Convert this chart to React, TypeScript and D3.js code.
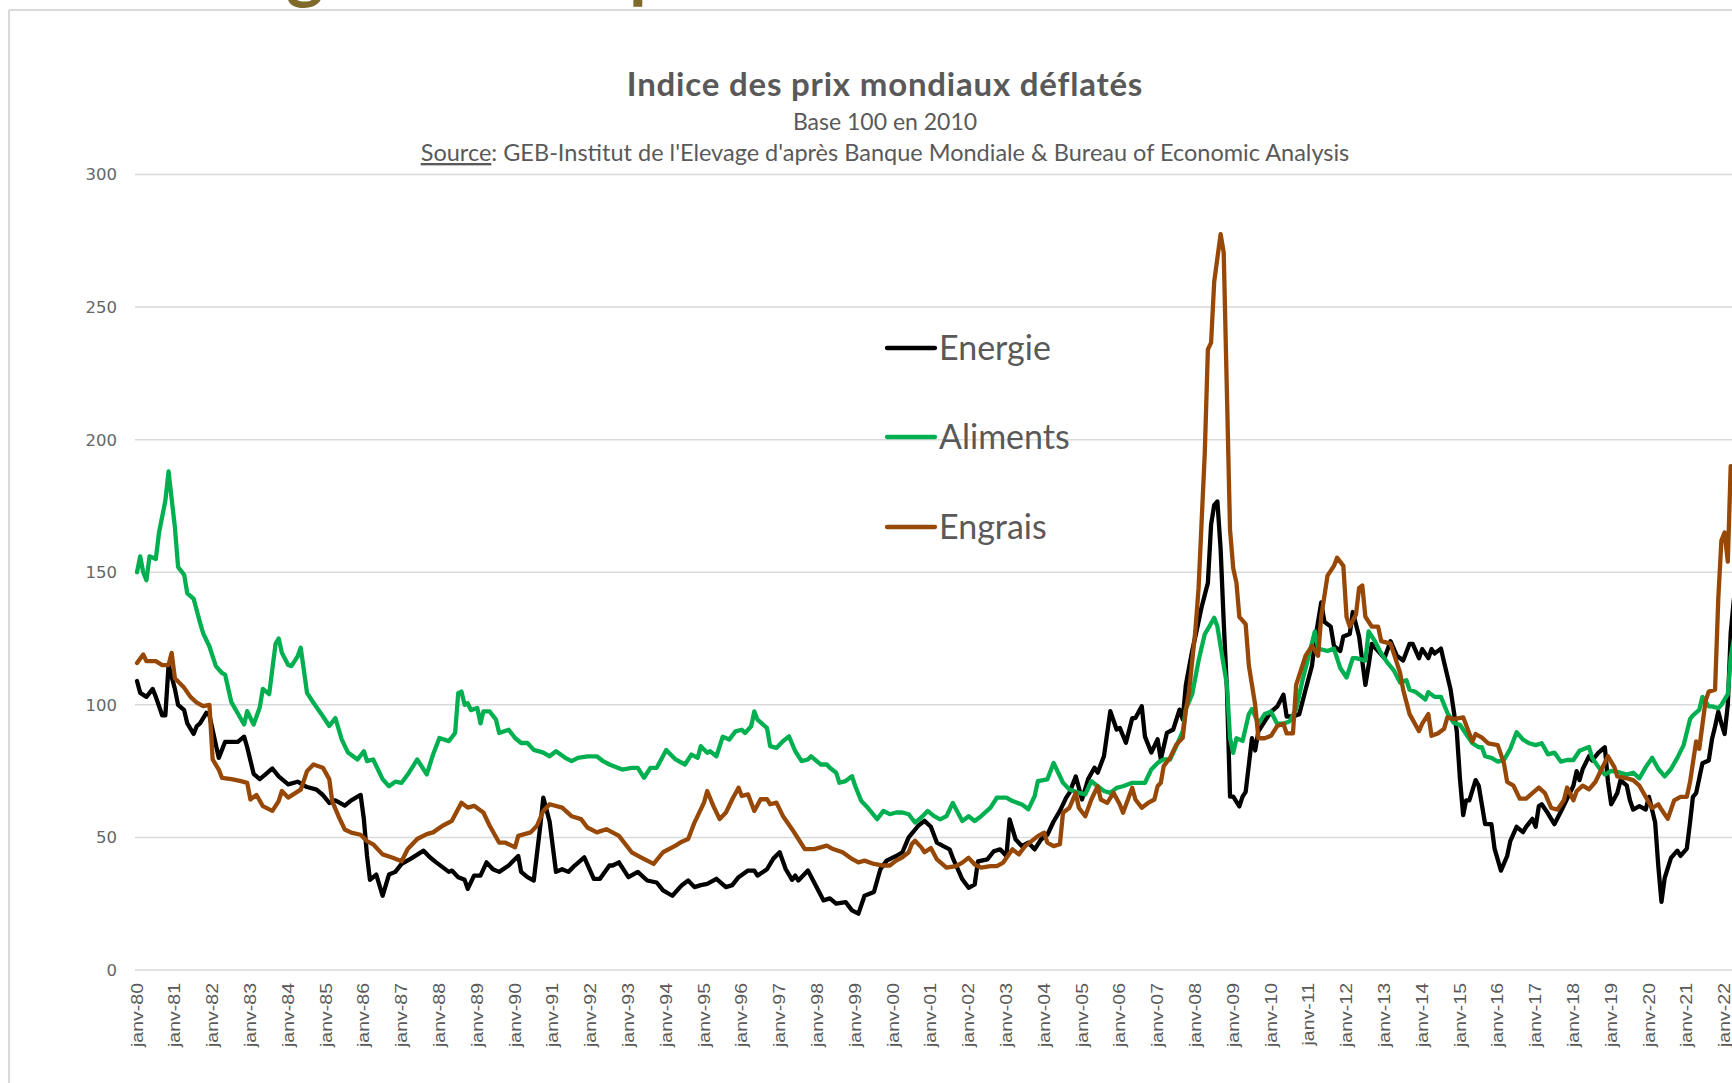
import React from 'react';
import * as d3 from 'd3';

// [mois depuis janv-80, indice base 100 en 2010]
const energie: [number, number][] = [[0,109],[1,104.5],[3,103],[5,106],[6,103],[8,96],[9,96],[10,115],[12,106],[13,100],[15,98],[16,93],[18,89],[19,92],[20,93],[22,97],[23,96],[26,80],[28,86],[30,86],[32,86],[34,88],[35,84],[37,74],[39,72],[41,74],[43,76],[45,73],[48,70],[51,71],[54,69],[57,68],[59,66],[61,63],[63,64],[66,62],[68,64],[71,66],[72,57],[73,43],[74,34],[76,36],[78,28],[80,36],[82,37],[84,40],[87,42],[91,45],[93,42.5],[95,40.6],[99,37],[100,37.5],[102,35],[104,34],[105,30.6],[107,35.6],[109,35.6],[111,40.6],[113,38],[115,37],[118,39.4],[119,40.6],[121,43],[122,37],[124,35],[126,33.75],[128,54],[129,65],[131,56],[133,37],[135,38],[137,37],[139,39.4],[142,42.5],[145,34.4],[147,34.4],[150,39.4],[151,39.4],[153,40.6],[156,35],[159,37],[162,33.75],[165,33],[167,30],[170,28],[173,32],[175,33.75],[177,31.25],[179,32],[181,32.5],[184,34.4],[187,31.25],[189,32],[191,35],[194,37.5],[196,37.5],[197,35.6],[200,38],[202,42],[204,44.4],[206,38],[208,34],[209,35.6],[210,33.75],[213,37.5],[216,30.6],[218,26.25],[220,27],[222,25],[225,25.6],[227,22.5],[229,21.25],[231,28],[234,29.4],[236,38],[238,41.25],[241,43],[243,44.4],[245,50],[248,54.4],[250,56.25],[252,54],[254,48],[256,46.7],[258,45.5],[259,42.3],[262,34.2],[264,31],[266,32.3],[267,41],[270,41.7],[272,44.8],[274,45.5],[276,43],[277,56.8],[279,49.2],[281,46.7],[283,48],[285,45.5],[287,49.2],[289,51],[291,56],[293,60],[295,65],[296,66.8],[298,73],[300,64.3],[302,72],[304,76.3],[305,74.4],[307,80.7],[309,97.6],[311,90.7],[312,91.3],[314,85.7],[316,95],[317,95],[319,99.5],[320,88],[322,82],[324,87],[325,79.4],[327,89.4],[329,90.7],[331,98.2],[332,94.5],[333,107.5],[335,120.3],[336,125.8],[338,136.8],[340,146],[341,168],[342,175.3],[343,176.7],[344,158.8],[345,131.3],[346,105.7],[347,65.4],[348,65.4],[350,61.7],[351,65.4],[352,67.2],[354,87.4],[355,82.8],[356,90],[358,93.8],[360,97.4],[362,99.3],[364,103.8],[365,95.6],[367,95.6],[369,96.5],[371,105.7],[373,114.8],[374,124],[376,138.6],[377,131.3],[379,129.5],[380,122.2],[382,120.3],[383,125.8],[385,126.7],[386,135],[388,125.8],[390,107.5],[391,114.8],[392,123],[394,120.3],[396,117.6],[398,124],[400,118.5],[402,116.7],[404,123],[405,123],[407,117.6],[408,121],[410,117.6],[411,121],[412,119.4],[414,121.2],[415,116],[417,106],[419,90],[420,72],[421,58.4],[422,64],[423,64],[425,71.6],[426,69.5],[428,55],[430,55],[431,45.8],[433,37.5],[435,43],[436,48.6],[438,54],[440,52],[441,54],[443,57],[444,54],[445,61.8],[446,62.5],[448,59],[450,55],[452,59.7],[454,64.6],[456,69.5],[457,75],[458,71.6],[459,75.8],[461,80.6],[462,79],[464,82],[466,84],[467,71],[468,62.5],[470,66.7],[471,71.6],[473,69.5],[474,64],[475,60.5],[477,61.8],[479,60.5],[480,65.3],[482,55.6],[483,38.9],[484,25.7],[485,34.7],[487,42.3],[489,45],[490,43],[492,45.8],[493,55.6],[494,65.3],[495,66.7],[497,78],[499,79],[500,87],[501,91.8],[502,97.4],[503,93],[504,89],[505,100],[506,127],[507,140]];

const aliments: [number, number][] = [[0,150],[1,156],[2,150],[3,147],[4,156],[6,155],[7,165],[9,177],[10,188],[12,167],[13,152],[15,149],[16,142],[18,140],[20,131],[21,127],[23,122],[25,114.6],[27,112],[28,111.4],[30,101],[34,92.6],[35,97.6],[37,92.6],[39,99],[40,106],[42,104],[44,123],[45,125],[46,119.6],[48,115],[49,114.6],[51,118.3],[52,121.5],[54,104.5],[56,100.8],[59,95.7],[61,92],[63,95],[65,87],[67,82],[70,79.4],[72,82.5],[73,78.8],[75,79.4],[78,72],[80,69.3],[82,71],[84,70.6],[86,73.7],[89,79.4],[92,73.75],[94,81.3],[96,87.5],[99,86.3],[101,89.4],[102,104.4],[103,105],[104,100],[105,100.6],[106,98],[108,98.8],[109,93],[110,97.5],[112,97.5],[114,94.4],[115,89.4],[118,90.6],[120,87.5],[122,85.6],[124,85.6],[126,83],[129,82],[131,80.6],[133,82.5],[136,80],[138,78.75],[140,80],[143,80.6],[146,80.6],[148,78.75],[150,77.5],[154,75.6],[157,76.25],[159,76.25],[161,72.5],[163,76.25],[165,76.25],[168,83],[171,79.4],[174,77.5],[176,81.25],[178,80],[179,84.4],[181,81.9],[182,82.5],[184,80.6],[186,88],[188,86.9],[190,90],[192,90.6],[193,89.4],[195,91.9],[196,97.5],[197,94.4],[200,91.25],[201,84.4],[203,83.75],[205,86.25],[207,88.1],[209,82.5],[211,78.75],[213,79.4],[214,80.6],[217,77.5],[219,77.5],[220,76.25],[222,74.4],[223,70.6],[225,71.25],[227,73.1],[228,69.4],[230,63.75],[232,61.25],[235,56.9],[237,60],[239,58.75],[241,59.4],[243,59.4],[245,58.75],[247,55.6],[249,57.5],[251,60],[253,58],[255,56.8],[257,58],[259,63],[262,56.2],[264,58],[266,56.2],[268,58],[271,61.2],[273,65],[276,65],[278,63.7],[281,62.4],[283,60.6],[285,65.6],[286,71.2],[289,71.9],[291,78.1],[292,75.6],[294,70.6],[296,68.1],[299,66.8],[301,66.2],[303,71.2],[305,69.3],[307,67.5],[309,66.8],[311,68.7],[313,69.3],[316,70.6],[318,70.6],[320,70.6],[322,75.6],[324,78.1],[326,79.4],[328,79.4],[330,84.4],[332,90],[333,98.4],[335,104],[337,116.7],[339,126.7],[340,128.6],[342,132.8],[343,129.5],[345,114.8],[346,107.5],[347,87.4],[348,81.9],[349,87.4],[351,86.4],[353,96.5],[354,98.4],[356,92.9],[358,96.5],[360,97.4],[362,92.9],[364,92.9],[366,93.8],[368,98.4],[370,109.3],[372,118.5],[374,127.7],[375,121.2],[378,120.3],[380,121.2],[382,113.9],[384,110.3],[386,117.6],[387,117.6],[390,116.7],[391,127.7],[393,124],[395,119.4],[397,115.8],[399,113],[401,108.4],[403,109.3],[404,105.7],[406,104.8],[409,102],[410,104.8],[412,103],[414,103],[416,97],[418,93.2],[420,92.5],[422,89],[424,85.5],[426,84],[427,84],[428,80.6],[430,80],[432,78.6],[434,79.2],[436,83.4],[438,89.7],[440,86.9],[442,85.5],[444,84.8],[446,85.5],[447,83.4],[448,81.3],[450,82],[452,78.6],[454,79.2],[456,79.2],[458,82.7],[461,84.1],[462,80],[464,76.5],[466,73.7],[468,75.1],[471,74.4],[473,73.7],[475,74.4],[477,72.3],[479,76.5],[481,80],[483,75.8],[485,73],[487,75.8],[489,80],[491,84.8],[493,94.6],[494,96],[496,98.1],[497,103],[499,99.4],[500,99.4],[502,98.7],[503,100],[505,104],[506,118],[507,125]];

const engrais: [number, number][] = [[0,115.8],[2,119],[3,116.5],[6,116.5],[8,115],[10,115],[11,119.6],[12,110],[15,106.4],[17,103],[19,100.8],[21,99.5],[23,100],[24,79.4],[26,75.6],[27,72.5],[30,72],[33,71.2],[35,70.6],[36,64.3],[38,66],[40,61.8],[43,60],[45,63.7],[46,67.5],[48,65],[52,68],[54,75],[56,77.5],[59,76.3],[61,72],[62,63.7],[64,58],[66,53],[68,51.8],[71,51],[73,48.6],[75,47.4],[78,43.6],[81,42.4],[84,41],[86,45.6],[89,49.4],[92,51.25],[94,51.9],[97,54.4],[100,56.25],[103,63.1],[105,61.25],[107,61.9],[110,59.4],[112,54.4],[115,48],[117,48],[120,46.25],[121,50.6],[125,51.9],[127,54.4],[129,60],[131,62.5],[135,61.25],[138,58],[141,56.9],[143,53.75],[146,51.9],[149,53.1],[153,50.6],[157,44.4],[160,42.5],[164,40],[167,44.4],[171,46.9],[173,48.4],[175,49.4],[177,55.6],[180,63.1],[181,67.5],[183,61.9],[185,56.9],[187,59.4],[189,64.4],[191,68.75],[192,65.6],[194,66.25],[196,60],[198,64.4],[200,64.4],[201,62.5],[203,63.1],[205,58.1],[208,53.1],[210,49.4],[212,45.6],[215,45.6],[217,46.25],[219,46.9],[221,45.6],[224,44.4],[227,41.9],[229,40.6],[231,41.25],[234,40],[237,39.4],[239,39.4],[241,41.25],[243,42.5],[245,44.4],[246,47.5],[247,48.75],[249,46.25],[250,44.4],[252,46],[254,41.7],[257,38.6],[260,39.2],[262,40.5],[264,42.3],[266,39.8],[268,38.6],[271,39.2],[273,39.2],[275,40.5],[278,45.5],[280,43.6],[282,46.7],[284,48.6],[286,50.5],[288,51.8],[289,48],[291,46.7],[293,47.4],[294,59.3],[296,61.2],[298,66.8],[299,61.2],[301,58],[303,64.3],[305,69.3],[306,64.3],[308,63],[310,66.8],[312,62.4],[313,59.3],[316,68.7],[317,64.3],[319,61.2],[321,63],[323,64.3],[324,69.3],[325,70.6],[326,76.9],[328,80],[330,85],[332,87.6],[333,98],[334,105],[336,128],[337,144],[339,195],[340,234],[341,236.6],[342,259.5],[344,277.5],[345,270.5],[346,217.4],[347,166],[348,151.5],[349,146],[350,133.2],[352,130.4],[353,114.8],[354,107.5],[355,100],[356,87.4],[358,87.4],[360,88.3],[362,92],[364,92.9],[365,89.2],[367,89.2],[368,107.5],[371,118.5],[373,122.2],[375,118.5],[376,133.2],[378,148.7],[380,152.4],[381,155.5],[383,152.4],[384,133.2],[385,129.5],[387,134.1],[388,144.1],[389,145],[390,133.2],[392,129.5],[394,129.5],[395,124],[398,123.1],[399,119.4],[401,112.1],[402,105.7],[404,96.5],[407,90.1],[408,92.9],[410,96.5],[411,88.3],[413,89.2],[415,91],[416,95.3],[418,94.6],[421,95.3],[424,86.2],[425,89],[427,87.6],[429,85.5],[432,84.8],[434,77.9],[435,70.9],[437,69.5],[439,64.6],[441,64.6],[443,66.7],[445,68.8],[447,66.7],[449,61.1],[451,60.5],[453,64],[454,68.8],[456,64],[457,67.4],[459,69.5],[461,68.1],[463,70.9],[465,75.8],[467,80.6],[469,76.5],[470,73],[473,72.3],[475,71.6],[477,69.5],[479,65.3],[481,61.1],[483,62.5],[484,60.5],[486,57],[488,64],[490,65.3],[492,65.3],[493,70.9],[495,86.2],[496,83.4],[498,101.5],[499,105],[501,105.7],[502,140],[503,162],[504,165],[505,154],[506,190]];

const seriesNames = ['Energie', 'Aliments', 'Engrais'];
const seriesColors = ['#000000', '#00B050', '#974806'];
const yTicks = [0, 50, 100, 150, 200, 250, 300];
const yearLabels = d3.range(1980, 2023).map((yr) => 'janv-' + String(yr % 100).padStart(2, '0'));

const W = 1732;
const H = 1083;

export default function App() {
  const x = d3.scaleTime().domain([new Date(1980, 0, 1), new Date(2022, 0, 1)]).range([137, 137 + 42 * 37.8]);
  const y = d3.scaleLinear().domain([0, 300]).range([970, 174.5]);
  const line = d3
    .line<[number, number]>()
    .x((d) => x(new Date(1980, d[0], 1)))
    .y((d) => y(d[1]));
  const data = [energie, aliments, engrais];
  const legendY = [348, 437, 527];

  return (
    <svg width={W} height={H} style={{ position: 'absolute', left: 0, top: 0, background: '#fff' }}>
      {/* slide title remnants (cut by the top edge) */}
      <text x={286} y={-6} fontFamily="Lato" fontWeight={700} fontSize={72} fill="#7F6A2B">g</text>
      <text x={629} y={-6} fontFamily="Lato" fontWeight={700} fontSize={72} fill="#7F6A2B">p</text>
      {/* chart frame */}
      <line x1={9} y1={10} x2={W} y2={10} stroke="#d9d9d9" strokeWidth={2} />
      <line x1={9} y1={10} x2={9} y2={H} stroke="#d9d9d9" strokeWidth={2} />

      {/* titles */}
      <text x={885} y={96} textAnchor="middle" fontFamily="Lato" fontWeight={700} fontSize={33} letterSpacing={0.8} fill="#595959">
        Indice des prix mondiaux déflatés
      </text>
      <text x={885} y={130} textAnchor="middle" fontFamily="Lato" fontSize={23} fill="#595959">
        Base 100 en 2010
      </text>
      <text x={885} y={161} textAnchor="middle" fontFamily="Lato" fontSize={23.5} fill="#595959">
        <tspan textDecoration="underline">Source</tspan>
        : GEB-Institut de l'Elevage d'après Banque Mondiale &amp; Bureau of Economic Analysis
      </text>

      {/* grid + y labels */}
      {yTicks.map((t) => (
        <g key={t}>
          <line x1={135} x2={W} y1={y(t)} y2={y(t)} stroke="#d9d9d9" strokeWidth={1.5} />
          <text x={117} y={y(t)} dy="0.36em" textAnchor="end" fontFamily="DejaVu Sans" fontSize={16.5} fill="#666">
            {t}
          </text>
        </g>
      ))}

      {/* x labels */}
      {yearLabels.map((lab, i) => {
        const xx = x(new Date(1980 + i, 0, 1));
        return (
          <text
            key={lab}
            transform={`translate(${xx},983) rotate(-90) scale(1.22,1)`}
            textAnchor="end"
            dy="0.35em"
            fontFamily="Liberation Sans"
            fontSize={16}
            fill="#595959"
          >
            {lab}
          </text>
        );
      })}

      {/* series */}
      {data.map((s, i) => (
        <path
          key={seriesNames[i]}
          d={line(s) || ''}
          fill="none"
          stroke={seriesColors[i]}
          strokeWidth={4.3}
          strokeLinejoin="round"
          strokeLinecap="round"
        />
      ))}

      {/* legend */}
      {seriesNames.map((n, i) => (
        <g key={n}>
          <line x1={887} x2={935} y1={legendY[i]} y2={legendY[i]} stroke={seriesColors[i]} strokeWidth={4.3} strokeLinecap="round" />
          <text x={939} y={legendY[i]} dy="0.35em" fontFamily="Lato" fontSize={34} fill="#595959">
            {n}
          </text>
        </g>
      ))}
    </svg>
  );
}
